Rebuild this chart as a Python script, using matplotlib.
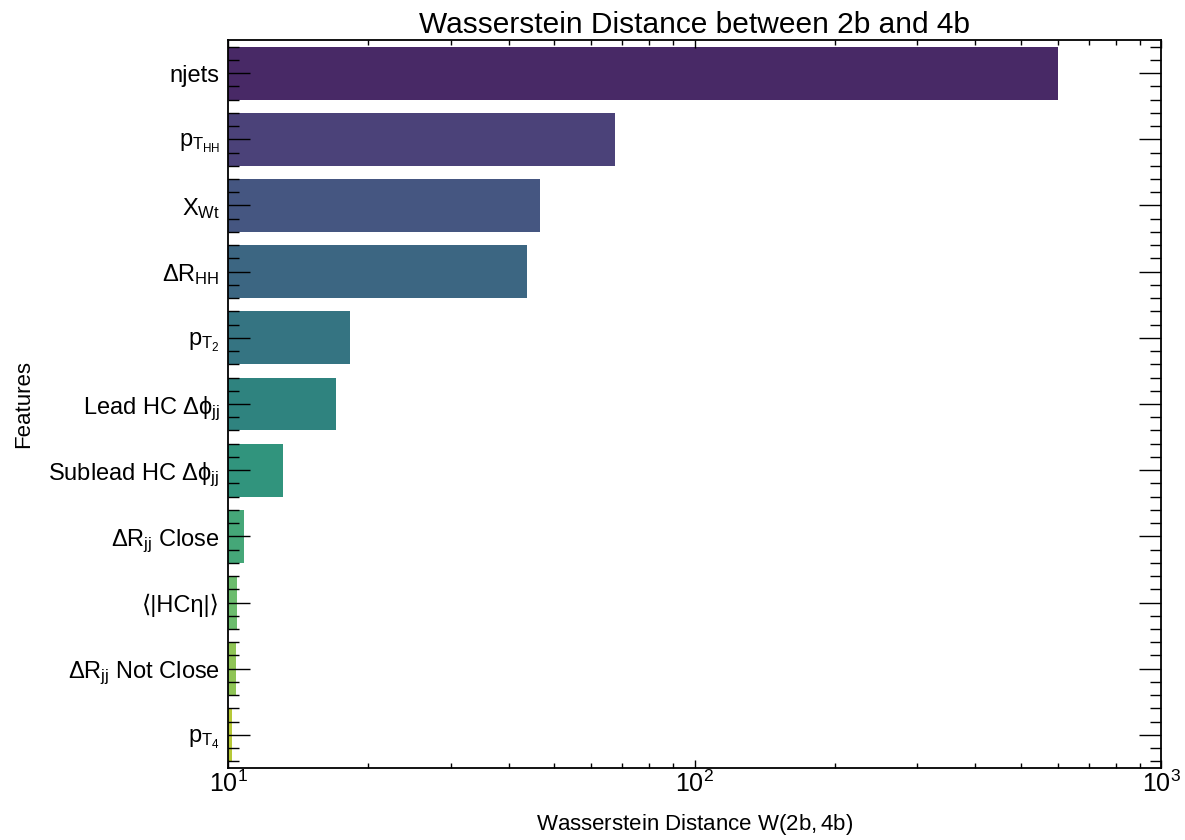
import colorsys
import matplotlib
matplotlib.use("Agg")
import matplotlib.pyplot as plt
from matplotlib.ticker import AutoMinorLocator, LogLocator, NullFormatter
import numpy as np

plt.rcParams["font.family"] = ["Liberation Sans", "DejaVu Sans"]
plt.rcParams["mathtext.fontset"] = "custom"
plt.rcParams["mathtext.rm"] = "Liberation Sans"
plt.rcParams["mathtext.it"] = "Liberation Sans"
plt.rcParams["mathtext.bf"] = "Liberation Sans:bold"
plt.rcParams["mathtext.sf"] = "Liberation Sans"
plt.rcParams["mathtext.fallback"] = "cm"

features = [
    "njets",
    r"$p_{T_{HH}}$",
    r"$X_{Wt}$",
    r"$\Delta R_{HH}$",
    r"$p_{T_2}$",
    r"Lead HC $\Delta\phi_{jj}$",
    r"Sublead HC $\Delta\phi_{jj}$",
    r"$\Delta R_{jj}$ Close",
    "⟨|HCη|⟩",
    r"$\Delta R_{jj}$ Not Close",
    r"$p_{T_4}$",
]
distances = [600.0, 67.5, 46.6, 43.8, 18.3, 17.0, 13.1, 10.8, 10.45, 10.4, 10.2]


def desaturate(rgb, prop):
    h, l, s = colorsys.rgb_to_hls(*rgb[:3])
    return colorsys.hls_to_rgb(h, l, s * prop)


n = len(features)
cmap = plt.get_cmap("viridis")
colors = [desaturate(cmap(v), 0.75) for v in np.linspace(0, 1, n + 2)[1:-1]]

fig = plt.figure(figsize=(11.85, 8.4), dpi=100)
ax = fig.add_axes([228 / 1185, 1 - 768 / 840, (1161 - 228) / 1185, (768 - 40) / 840])

y = np.arange(n)
ax.barh(y, distances, height=0.8, color=colors, linewidth=0)

ax.set_xscale("log")
ax.set_xlim(10, 1000)
ax.set_ylim(n - 0.5, -0.5)
ax.set_yticks(y)
ax.set_yticklabels(features, fontsize=17)
ax.yaxis.set_minor_locator(AutoMinorLocator(5))
ax.xaxis.set_major_locator(LogLocator(base=10))
ax.xaxis.set_minor_locator(LogLocator(base=10, subs=np.arange(2, 10)))
ax.xaxis.set_minor_formatter(NullFormatter())

ax.tick_params(axis="both", which="both", direction="in", top=True, right=True, width=1.0)
ax.tick_params(axis="y", which="major", length=16, pad=6)
ax.tick_params(axis="y", which="minor", length=8)
ax.tick_params(axis="x", which="major", length=6, labelsize=18, pad=2)
ax.tick_params(axis="x", which="minor", length=3.5)
for sp in ax.spines.values():
    sp.set_linewidth(1.3)

ax.set_title("Wasserstein Distance between 2b and 4b", fontsize=21.5, pad=5)
ax.set_xlabel(r"Wasserstein Distance $W(2b, 4b)$", fontsize=16, va="center")
ax.xaxis.set_label_coords(0.5, -0.078)
ax.set_ylabel("Features", fontsize=16, labelpad=10)

fig.savefig("out.png", dpi=100)
